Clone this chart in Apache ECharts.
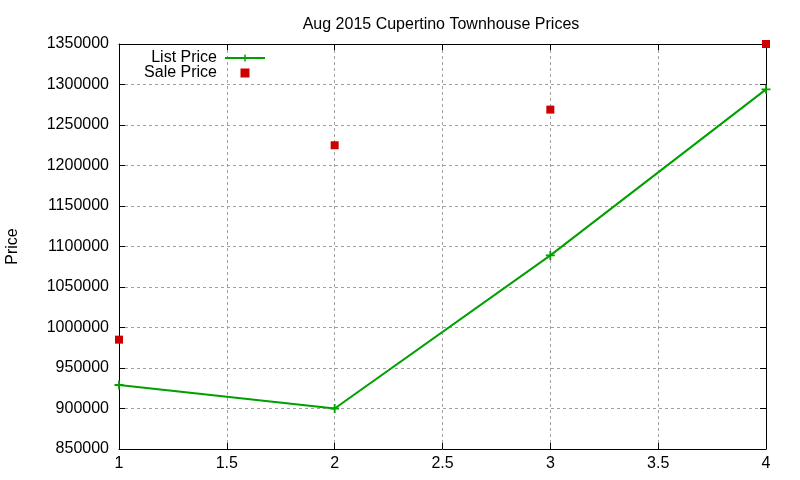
<!DOCTYPE html>
<html>
<head>
<meta charset="utf-8">
<script src="https://cdn.jsdelivr.net/npm/echarts@6/dist/echarts.min.js"></script>
<style>
html,body{margin:0;padding:0;background:#fff;}
#chart{width:800px;height:480px;}
</style>
</head>
<body>
<div id="chart"></div>
<script>
const titleText = 'Aug 2015 Cupertino Townhouse Prices';
const seriesNames = ['List Price', 'Sale Price'];
const xValues = [1, 2, 3, 4];
const listPrice = [929000, 900000, 1089000, 1294000];
const salePrice = [985000, 1225000, 1269000, 1350000];
const yMin = 850000, yMax = 1350000, yStep = 50000;
const xMin = 1, xMax = 4, xStep = 0.5;

const FONT = 'Liberation Sans';
const plusPath = 'path://M4,0H6V4H10V6H6V10H4V6H0V4H4Z';
const squarePath = 'path://M0,0H10V10H0Z';

const chart = echarts.init(document.getElementById('chart'), null, {renderer: 'canvas'});

const baseX = {
  type: 'value', min: xMin, max: xMax, interval: xStep,
  axisLine: {show: true, onZero: false, lineStyle: {color: '#000', width: 1}},
  axisTick: {show: true, inside: true, length: 6, lineStyle: {color: '#000'}},
};
const baseY = {
  type: 'value', min: yMin, max: yMax, interval: yStep,
  axisLine: {show: true, onZero: false, lineStyle: {color: '#000', width: 1}},
  axisTick: {show: true, inside: true, length: 6, lineStyle: {color: '#000'}},
};

chart.setOption({
  animation: false,
  backgroundColor: '#fff',
  textStyle: {fontFamily: FONT},
  title: {
    text: titleText, left: 436, top: 12, textAlign: 'center',
    textStyle: {fontFamily: FONT, fontSize: 16, fontWeight: 'normal', color: '#000'}
  },
  grid: {left: 119, right: 34, top: 44, bottom: 31, containLabel: false, outerBoundsMode: 'none'},
  legend: {
    orient: 'vertical', align: 'right', right: 534, top: 50, padding: 0,
    itemWidth: 40, itemHeight: 9, itemGap: -1,
    textStyle: {fontFamily: FONT, fontSize: 16, color: '#000', lineHeight: 12, padding: [0, 3, 0, 0]},
    data: [
      {name: seriesNames[0]},
      {name: seriesNames[1], icon: squarePath}
    ]
  },
  xAxis: [
    Object.assign({}, baseX, {
      position: 'bottom',
      axisLabel: {show: true, margin: 7, fontFamily: FONT, fontSize: 16, color: '#000'},
      splitLine: {show: true, lineStyle: {color: '#a0a0a0', type: [3, 3], width: 1}}
    }),
    Object.assign({}, baseX, {
      position: 'top',
      axisLabel: {show: false},
      splitLine: {show: false}
    })
  ],
  yAxis: [
    Object.assign({}, baseY, {
      position: 'left',
      name: 'Price', nameLocation: 'middle', nameGap: 98, nameRotate: 90,
      nameTextStyle: {fontFamily: FONT, fontSize: 16, color: '#000'},
      axisLabel: {show: true, margin: 10, fontFamily: FONT, fontSize: 16, color: '#000',
        formatter: v => String(v)},
      splitLine: {show: true, lineStyle: {color: '#a0a0a0', type: [3, 3], width: 1}}
    }),
    Object.assign({}, baseY, {
      position: 'right',
      axisLabel: {show: false},
      splitLine: {show: false}
    })
  ],
  series: [
    {
      name: seriesNames[0], type: 'line',
      data: xValues.map((x, i) => [x, listPrice[i]]),
      symbol: plusPath, symbolSize: 9, showAllSymbol: true,
      lineStyle: {color: '#00a000', width: 2},
      itemStyle: {color: '#00a000', opacity: 1},
      clip: false, z: 3
    },
    {
      name: seriesNames[1], type: 'scatter',
      data: xValues.map((x, i) => [x, salePrice[i]]),
      symbol: 'rect', symbolSize: 8,
      itemStyle: {color: '#cc0000', opacity: 1},
      clip: false, z: 4
    }
  ]
});
</script>
</body>
</html>
